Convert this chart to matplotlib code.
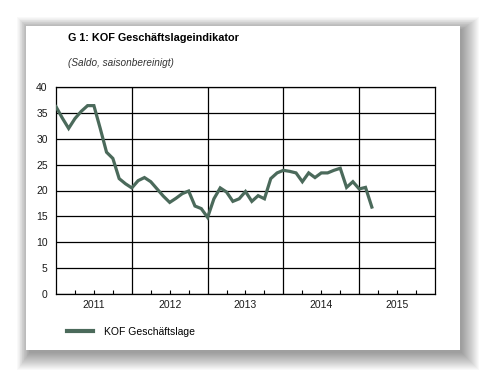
import matplotlib

matplotlib.use("Agg")

import matplotlib.pyplot as plt
import numpy as np
from matplotlib.patches import Rectangle
from matplotlib.ticker import FixedLocator, FuncFormatter

plt.rcParams["font.family"] = ["Liberation Sans", "DejaVu Sans"]

TITLE = "G 1: KOF Geschäftslageindikator"
SUBTITLE = "(Saldo, saisonbereinigt)"
SERIES_NAME = "KOF Geschäftslage"

START_YEAR = 2011
YEARS = [2011, 2012, 2013, 2014, 2015]
# monthly values, Jan 2011 .. Mar 2015
values = [
    36.2, 34.0, 32.0, 33.9, 35.3, 36.4, 36.4, 32.0, 27.4, 26.2, 22.3, 21.3,
    20.5, 21.9, 22.5, 21.7, 20.3, 18.9, 17.7, 18.5, 19.4, 19.9, 17.0, 16.5,
    14.8, 18.4, 20.5, 19.7, 17.9, 18.4, 19.8, 17.9, 19.0, 18.4, 22.3, 23.4,
    23.9, 23.7, 23.4, 21.7, 23.4, 22.5, 23.4, 23.4, 23.9, 24.3, 20.6, 21.7,
    20.3, 20.6, 16.8,
]
y_ticks = [0, 5, 10, 15, 20, 25, 30, 35, 40]

W, H, DPI = 486, 376, 100
fig = plt.figure(figsize=(W / DPI, H / DPI), dpi=DPI)
fig.patch.set_facecolor("white")


def px(x0, y0, x1, y1):
    """pixel box (top-left origin) -> figure fraction rect"""
    return (x0 / W, 1 - y1 / H), (x1 - x0) / W, (y1 - y0) / H


# soft drop shadow behind the card, heavier to the lower right
for i in range(18):
    g = 18 - i
    (x, y), w, h = px(26 - g * 0.7 + 4, 26 - g * 0.7 + 4, 460 + g + 1, 350 + g + 2)
    fig.patches.append(Rectangle((x, y), w, h, transform=fig.transFigure,
                                 facecolor="black", edgecolor="none", alpha=0.025, zorder=0))
(x, y), w, h = px(26, 26, 460, 350)
fig.patches.append(Rectangle((x, y), w, h, transform=fig.transFigure,
                             facecolor="white", edgecolor="none", zorder=1))

(x, y), w, h = px(56, 87, 435, 294)
ax = fig.add_axes([x, y, w, h], zorder=2)

xs = START_YEAR + np.arange(len(values)) / 12
line, = ax.plot(xs, values, color="#4b6a5b", lw=2.3, solid_joinstyle="miter", zorder=3)

ax.set_xlim(YEARS[0], YEARS[-1] + 1)
ax.set_ylim(0, 40)
ax.set_yticks(y_ticks)
ax.tick_params(axis="y", length=0, pad=6, labelsize=7.5, labelcolor="#1a1a1a")

ax.set_xticks(YEARS[1:])
ax.xaxis.set_major_formatter(FuncFormatter(lambda v, p: ""))
ax.tick_params(axis="x", which="major", length=0)
quarters = [yr + q / 4 for yr in YEARS for q in (1, 2, 3)]
ax.xaxis.set_minor_locator(FixedLocator(quarters))
ax.xaxis.set_minor_formatter(FuncFormatter(
    lambda v, p: str(int(v)) if abs(v - int(v) - 0.5) < 1e-6 else ""))
ax.tick_params(axis="x", which="minor", direction="in", length=3, width=0.8,
               color="black", labelsize=7.5, labelcolor="#1a1a1a", pad=4)

ax.grid(True, which="major", color="black", lw=0.9)
ax.set_axisbelow(True)
for s in ax.spines.values():
    s.set_color("black")
    s.set_linewidth(0.9)

fig.text(68 / W, 1 - 38 / H, TITLE, fontsize=7.8, fontweight="bold", va="center", ha="left", zorder=3)
fig.text(68 / W, 1 - 63 / H, SUBTITLE, fontsize=7.2, style="italic", color="#333333",
         va="center", ha="left", zorder=3)

leg = fig.legend([line], [SERIES_NAME], loc="center left", bbox_to_anchor=(58 / W, 1 - 332 / H),
                 frameon=False, fontsize=7.5, handlelength=2.5, handletextpad=1.0)
leg.set_zorder(3)
leg.get_lines()[0].set_linewidth(3)

fig.savefig("out.png", dpi=DPI, facecolor="white")
